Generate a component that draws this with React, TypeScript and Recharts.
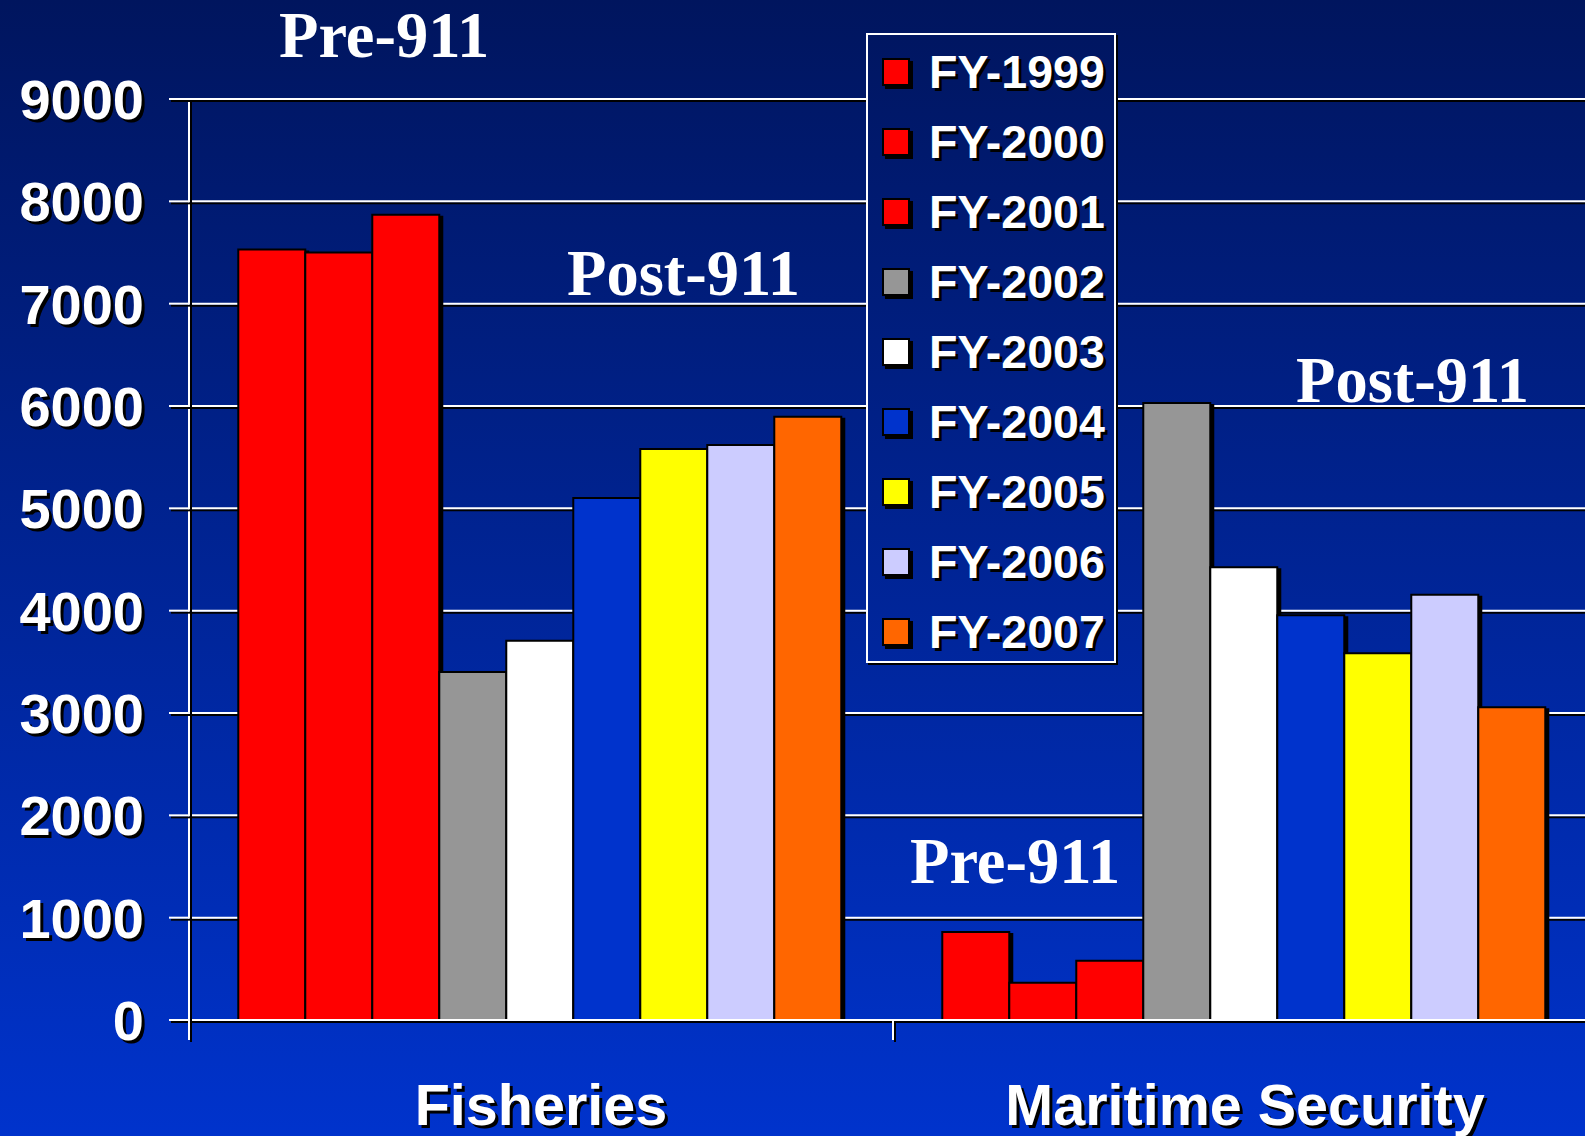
import React from 'react';
import { BarChart, Bar, XAxis, YAxis, CartesianGrid } from 'recharts';

const categories = ['Fisheries', 'Maritime Security'];
const seriesNames = ['FY-1999', 'FY-2000', 'FY-2001', 'FY-2002', 'FY-2003', 'FY-2004', 'FY-2005', 'FY-2006', 'FY-2007'];
const seriesColors = ['#FF0000', '#FF0000', '#FF0000', '#969696', '#FFFFFF', '#0033CC', '#FFFF00', '#CCCCFF', '#FF6600'];

const fy1999 = [7530, 860];
const fy2000 = [7500, 365];
const fy2001 = [7870, 580];
const fy2002 = [3400, 6030];
const fy2003 = [3705, 4425];
const fy2004 = [5100, 3955];
const fy2005 = [5580, 3585];
const fy2006 = [5620, 4155];
const fy2007 = [5895, 3055];
const seriesValues = [fy1999, fy2000, fy2001, fy2002, fy2003, fy2004, fy2005, fy2006, fy2007];

const yTicks = [0, 1000, 2000, 3000, 4000, 5000, 6000, 7000, 8000, 9000];

const annotations = [
  { text: 'Pre-911', x: 279, y: 57 },
  { text: 'Post-911', x: 567, y: 295 },
  { text: 'Pre-911', x: 910, y: 883 },
  { text: 'Post-911', x: 1296, y: 402 },
];

const rows = categories.map((c, i) => {
  const r: Record<string, string | number> = { category: c };
  seriesNames.forEach((n, j) => {
    r[n] = seriesValues[j][i];
  });
  return r;
});

const BG = 'linear-gradient(180deg, #00155E 0%, #0033CC 100%)';
const SANS = '"Liberation Sans", Arial, sans-serif';
const SERIF = '"Liberation Serif", "Times New Roman", serif';

const css = `
.recharts-cartesian-grid-horizontal line,
.recharts-cartesian-axis-line,
.recharts-cartesian-axis-tick-line,
.edge-tick { filter: drop-shadow(2px 2px 0 #000); }
.recharts-bar-rectangle path { filter: drop-shadow(3px 2px 0 #000); }
`;

const YTick = (props: any) => {
  const { x, y, payload } = props;
  return (
    <text
      x={x}
      y={y}
      dy="0.36em"
      textAnchor="end"
      fill="#fff"
      style={{ fontFamily: SANS, fontWeight: 700, fontSize: 56, filter: 'drop-shadow(3px 3px 0 #000)' }}
    >
      {payload.value}
    </text>
  );
};

const CatTick = (props: any) => {
  const { x, y, payload } = props;
  const half = typeof payload?.offset === 'number' ? payload.offset : 0;
  return (
    <g>
      {half > 0 && (
        <line
          className="edge-tick"
          x1={x - half}
          x2={x - half}
          y1={y}
          y2={y + 20}
          stroke="#FFFFFF"
          strokeWidth={2}
        />
      )}
      <text
        x={x}
        y={y + 105}
        textAnchor="middle"
        fill="#fff"
        style={{ fontFamily: SANS, fontWeight: 700, fontSize: 57.5, filter: 'drop-shadow(3px 3px 0 #000)' }}
      >
        {payload.value}
      </text>
    </g>
  );
};

export default function App() {
  return (
    <div
      style={{
        position: 'fixed',
        left: 0,
        top: 0,
        width: 1585,
        height: 1136,
        overflow: 'hidden',
        background: BG,
      }}
    >
      <style>{css}</style>
      <BarChart
        width={1600}
        height={1136}
        data={rows}
        margin={{ top: 99, right: 3, bottom: 0, left: 0 }}
        barCategoryGap="7%"
        barGap={0}
      >
        <CartesianGrid vertical={false} stroke="#FFFFFF" strokeWidth={2} />
        <XAxis
          dataKey="category"
          type="category"
          height={116}
          tickSize={0}
          tickMargin={0}
          tickLine={false}
          axisLine={{ stroke: '#FFFFFF', strokeWidth: 2 }}
          tick={CatTick}
          interval={0}
        />
        <YAxis
          width={189}
          domain={[0, 9000]}
          ticks={yTicks}
          interval={0}
          tickSize={20}
          tickMargin={25}
          tickLine={{ stroke: '#FFFFFF', strokeWidth: 2 }}
          axisLine={{ stroke: '#FFFFFF', strokeWidth: 2 }}
          tick={YTick}
        />
        {seriesNames.map((n, i) => (
          <Bar
            key={n}
            dataKey={n}
            name={n}
            fill={seriesColors[i]}
            stroke="#000000"
            strokeWidth={2}
            isAnimationActive={false}
          />
        ))}
      </BarChart>

      <svg
        width={1585}
        height={1136}
        style={{ position: 'absolute', left: 0, top: 0, pointerEvents: 'none' }}
      >
        {annotations.map((a, i) => (
          <text
            key={i}
            x={a.x}
            y={a.y}
            fill="#FFFFFF"
            style={{ fontFamily: SERIF, fontWeight: 700, fontSize: 64.5 }}
          >
            {a.text}
          </text>
        ))}
      </svg>

      <div
        style={{
          position: 'absolute',
          left: 866,
          top: 33,
          width: 250,
          height: 630,
          boxSizing: 'border-box',
          border: '2px solid #FFFFFF',
          boxShadow: '2px 2px 0 #000',
          background: BG,
          backgroundAttachment: 'fixed',
          paddingTop: 2,
        }}
      >
        {seriesNames.map((n, i) => (
          <div
            key={n}
            style={{ height: 70, position: 'relative' }}
          >
            <div
              style={{
                position: 'absolute',
                left: 14,
                top: 21,
                width: 28,
                height: 28,
                boxSizing: 'border-box',
                border: '2px solid #000',
                background: seriesColors[i],
                boxShadow: '3px 3px 0 #000',
              }}
            />
            <span
              style={{
                position: 'absolute',
                left: 61,
                top: 35,
                transform: 'translateY(-50%)',
                fontFamily: SANS,
                fontWeight: 700,
                fontSize: 46.5,
                lineHeight: '46px',
                color: '#FFFFFF',
                textShadow: '3px 3px 0 #000',
                whiteSpace: 'nowrap',
              }}
            >
              {n}
            </span>
          </div>
        ))}
      </div>
    </div>
  );
}
